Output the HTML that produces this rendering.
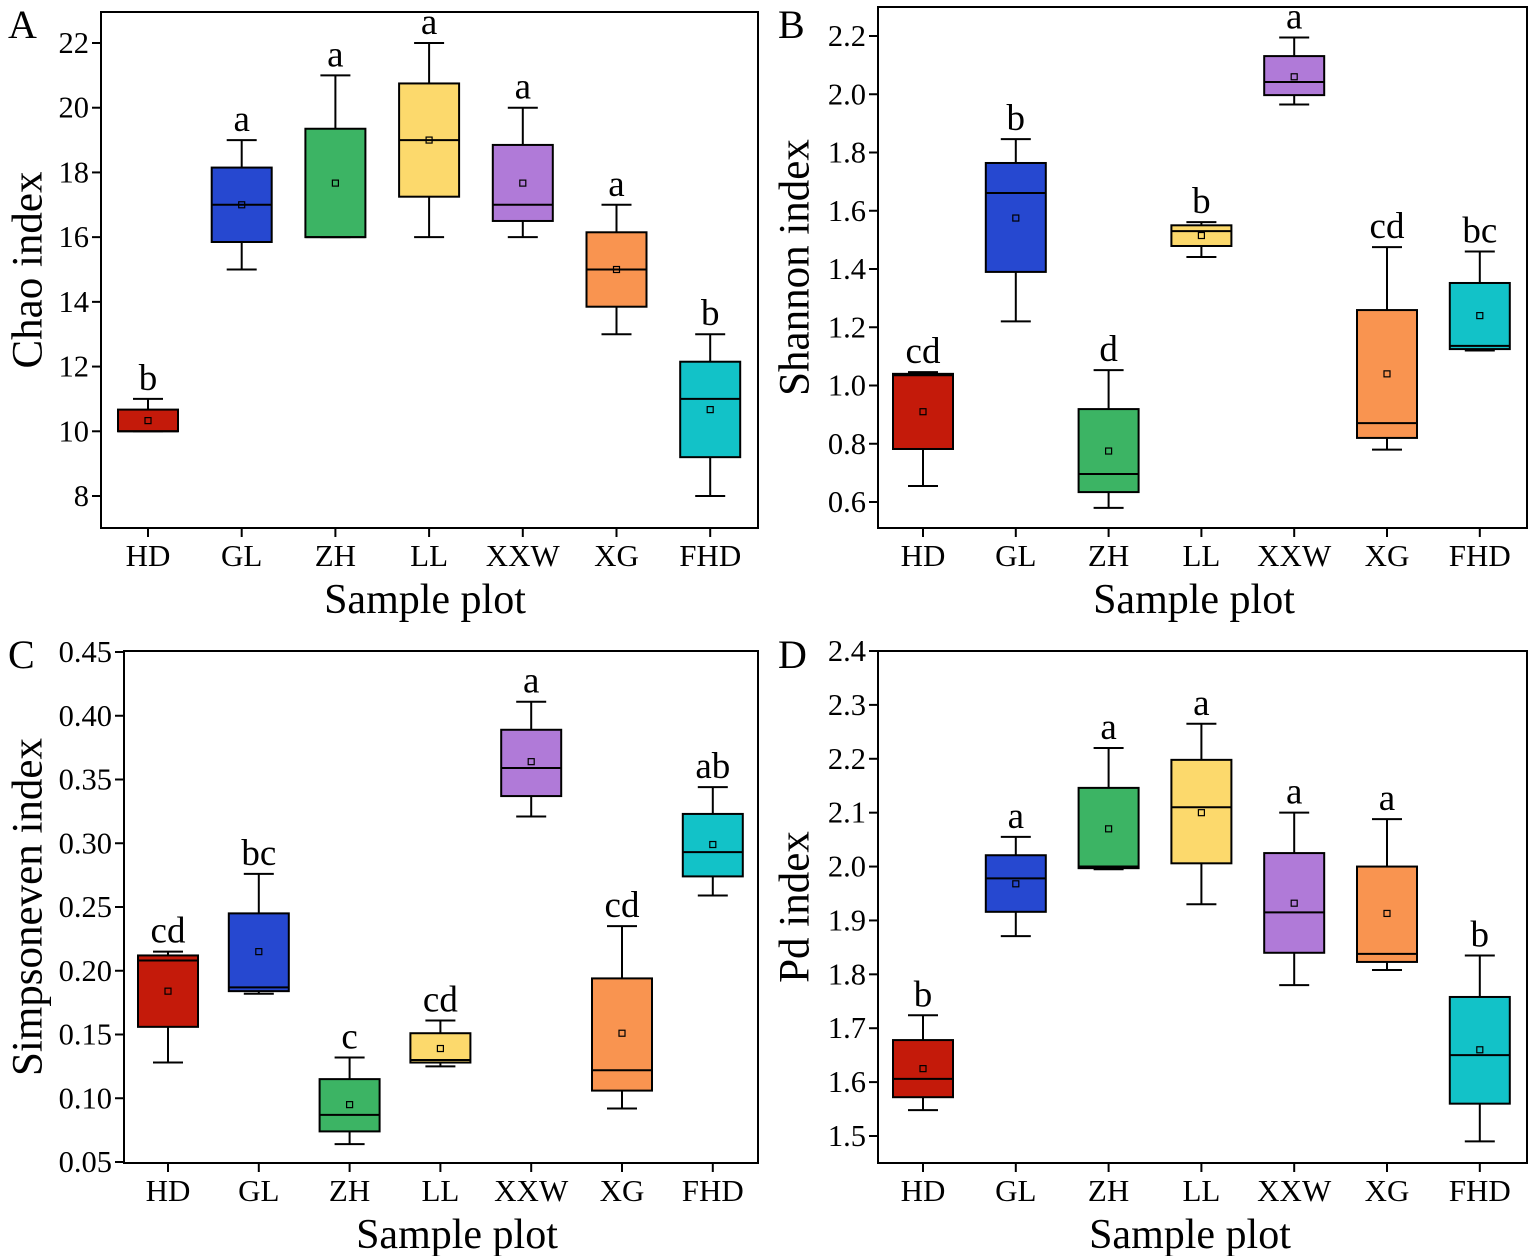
<!DOCTYPE html>
<html><head><meta charset="utf-8"><style>
html,body{margin:0;padding:0;background:#fff}
svg{display:block;font-family:"Liberation Serif","Times New Roman",serif}
</style></head><body>
<svg id="fig" width="1535" height="1256" viewBox="0 0 1535 1256" xmlns="http://www.w3.org/2000/svg"></svg>
<script>
const categories = ["HD","GL","ZH","LL","XXW","XG","FHD"];
const colors = ["#c41a0a","#2648d0","#3cb464","#fcd96c","#b07ad8","#f99450","#12c2c8"];
// each: [min, q1, median, q3, max, mean]
const chaoValues = [[10,10,10,10.67,11,10.33],[15,15.85,17,18.15,19,17],[16,16,16,19.35,21,17.67],[16,17.25,19,20.75,22,19],[16,16.5,17,18.85,20,17.67],[13,13.85,15,16.15,17,15],[8,9.2,11,12.15,13,10.67]];
const chaoLetters = ["b","a","a","a","a","a","b"];
const chaoTicks = [8,10,12,14,16,18,20,22];
const shannonValues = [[0.655,0.782,1.035,1.04,1.046,0.91],[1.22,1.39,1.661,1.764,1.846,1.575],[0.58,0.634,0.696,0.919,1.053,0.775],[1.441,1.479,1.53,1.55,1.561,1.515],[1.965,1.997,2.042,2.131,2.195,2.06],[0.78,0.82,0.871,1.259,1.475,1.04],[1.12,1.125,1.136,1.352,1.46,1.24]];
const shannonLetters = ["cd","b","d","b","a","cd","bc"];
const shannonTicks = [0.6,0.8,1.0,1.2,1.4,1.6,1.8,2.0,2.2];
const simpsonValues = [[0.128,0.156,0.208,0.212,0.215,0.184],[0.182,0.184,0.187,0.245,0.276,0.215],[0.064,0.074,0.087,0.115,0.132,0.095],[0.125,0.128,0.13,0.151,0.161,0.139],[0.321,0.337,0.359,0.389,0.411,0.364],[0.092,0.106,0.122,0.194,0.235,0.151],[0.259,0.274,0.293,0.323,0.344,0.299]];
const simpsonLetters = ["cd","bc","c","cd","a","cd","ab"];
const simpsonTicks = [0.05,0.10,0.15,0.20,0.25,0.30,0.35,0.40,0.45];
const pdValues = [[1.548,1.572,1.606,1.678,1.724,1.625],[1.871,1.916,1.978,2.021,2.055,1.968],[1.995,1.997,2.0,2.146,2.22,2.07],[1.93,2.006,2.11,2.198,2.265,2.1],[1.78,1.84,1.915,2.025,2.1,1.932],[1.808,1.823,1.838,2.0,2.088,1.913],[1.49,1.56,1.65,1.758,1.835,1.66]];
const pdLetters = ["b","a","a","a","a","a","b"];
const pdTicks = [1.5,1.6,1.7,1.8,1.9,2.0,2.1,2.2,2.3,2.4];

const NS="http://www.w3.org/2000/svg";
const svg=document.getElementById('fig');
function mk(tag,attrs,parent){const e=document.createElementNS(NS,tag);for(const k in attrs)e.setAttribute(k,attrs[k]);(parent||svg).appendChild(e);return e;}

const panels=[
 {id:"A",name:"chao",L:101,T:12,R:758,B:528,v0:8,y0:496,v1:22,y1:43,x0:148,dx:93.7,vals:chaoValues,let:chaoLetters,ticks:chaoTicks,dec:0,title:"Chao index",tx:28,lx:8,ly:38,xtc:425},
 {id:"B",name:"shannon",L:878,T:7,R:1527,B:528,v0:0.6,y0:502,v1:2.2,y1:36,x0:923,dx:92.8,vals:shannonValues,let:shannonLetters,ticks:shannonTicks,dec:1,title:"Shannon index",tx:795,lx:778,ly:38,xtc:1194},
 {id:"C",name:"simpsoneven",L:124,T:651,R:758,B:1163,v0:0.05,y0:1162,v1:0.45,y1:652,x0:168,dx:90.8,vals:simpsonValues,let:simpsonLetters,ticks:simpsonTicks,dec:2,title:"Simpsoneven index",tx:28,lx:8,ly:668,xtc:457},
 {id:"D",name:"pd",L:878,T:651,R:1527,B:1163,v0:1.5,y0:1136,v1:2.4,y1:651,x0:923,dx:92.8,vals:pdValues,let:pdLetters,ticks:pdTicks,dec:1,title:"Pd index",tx:795,lx:778,ly:668,xtc:1190}
];

panels.forEach(p=>{
  const g=mk('g',{});
  
  
  const y=v=>p.y0+(v-p.v0)*(p.y1-p.y0)/(p.v1-p.v0);
  const x=i=>p.x0+i*p.dx;
  const lbl=mk('text',{x:p.lx,y:p.ly,'font-size':40},g);lbl.textContent=p.id;
  
  
  p.vals.forEach((d,i)=>{
    const cx=x(i),w=60,cw=30;
    const bg=mk('g',{},g);
    
    
    mk('line',{x1:cx,x2:cx,y1:y(d[3]),y2:y(d[4]),stroke:'#000','stroke-width':2},bg);
    mk('line',{x1:cx,x2:cx,y1:y(d[0]),y2:y(d[1]),stroke:'#000','stroke-width':2},bg);
    mk('line',{x1:cx-cw/2,x2:cx+cw/2,y1:y(d[4]),y2:y(d[4]),stroke:'#000','stroke-width':2},bg);
    mk('line',{x1:cx-cw/2,x2:cx+cw/2,y1:y(d[0]),y2:y(d[0]),stroke:'#000','stroke-width':2},bg);
    mk('rect',{x:cx-w/2,y:y(d[3]),width:w,height:Math.max(1,y(d[1])-y(d[3])),fill:colors[i],stroke:'#000','stroke-width':2},bg);
    mk('line',{x1:cx-w/2,x2:cx+w/2,y1:y(d[2]),y2:y(d[2]),stroke:'#000','stroke-width':2},bg);
    mk('rect',{x:cx-3,y:y(d[5])-3,width:6,height:6,fill:'none',stroke:'#000','stroke-width':1.2},bg);
    const t=mk('text',{x:cx,y:y(d[4])-9,'font-size':37,'text-anchor':'middle'},g);t.textContent=p.let[i];
    
    
    mk('line',{x1:cx,x2:cx,y1:p.B,y2:p.B+9,stroke:'#000','stroke-width':2},g);
    const xl=mk('text',{x:cx,y:p.B+38,'font-size':31,'text-anchor':'middle'},g);xl.textContent=categories[i];
    
    
  });
  p.ticks.forEach(v=>{
    const yy=y(v);
    mk('line',{x1:p.L-9,x2:p.L,y1:yy,y2:yy,stroke:'#000','stroke-width':2},g);
    const tl=mk('text',{x:p.L-12,y:yy+10,'font-size':30.5,'text-anchor':'end'},g);tl.textContent=v.toFixed(p.dec);
    
    
  });
  const fr=mk('rect',{x:p.L,y:p.T,width:p.R-p.L,height:p.B-p.T,fill:'none',stroke:'#000','stroke-width':2},g);
  
  
  const cy=(p.T+p.B)/2;
  const yt=mk('text',{x:p.tx,y:cy,'font-size':43,'text-anchor':'middle',transform:`rotate(-90 ${p.tx} ${cy})`,'dominant-baseline':'central'},g);yt.textContent=p.title;
  
  
  const xt=mk('text',{x:p.xtc,y:p.B+85,'font-size':42,'text-anchor':'middle'},g);xt.textContent="Sample plot";
  
  
});
</script>
</body></html>
